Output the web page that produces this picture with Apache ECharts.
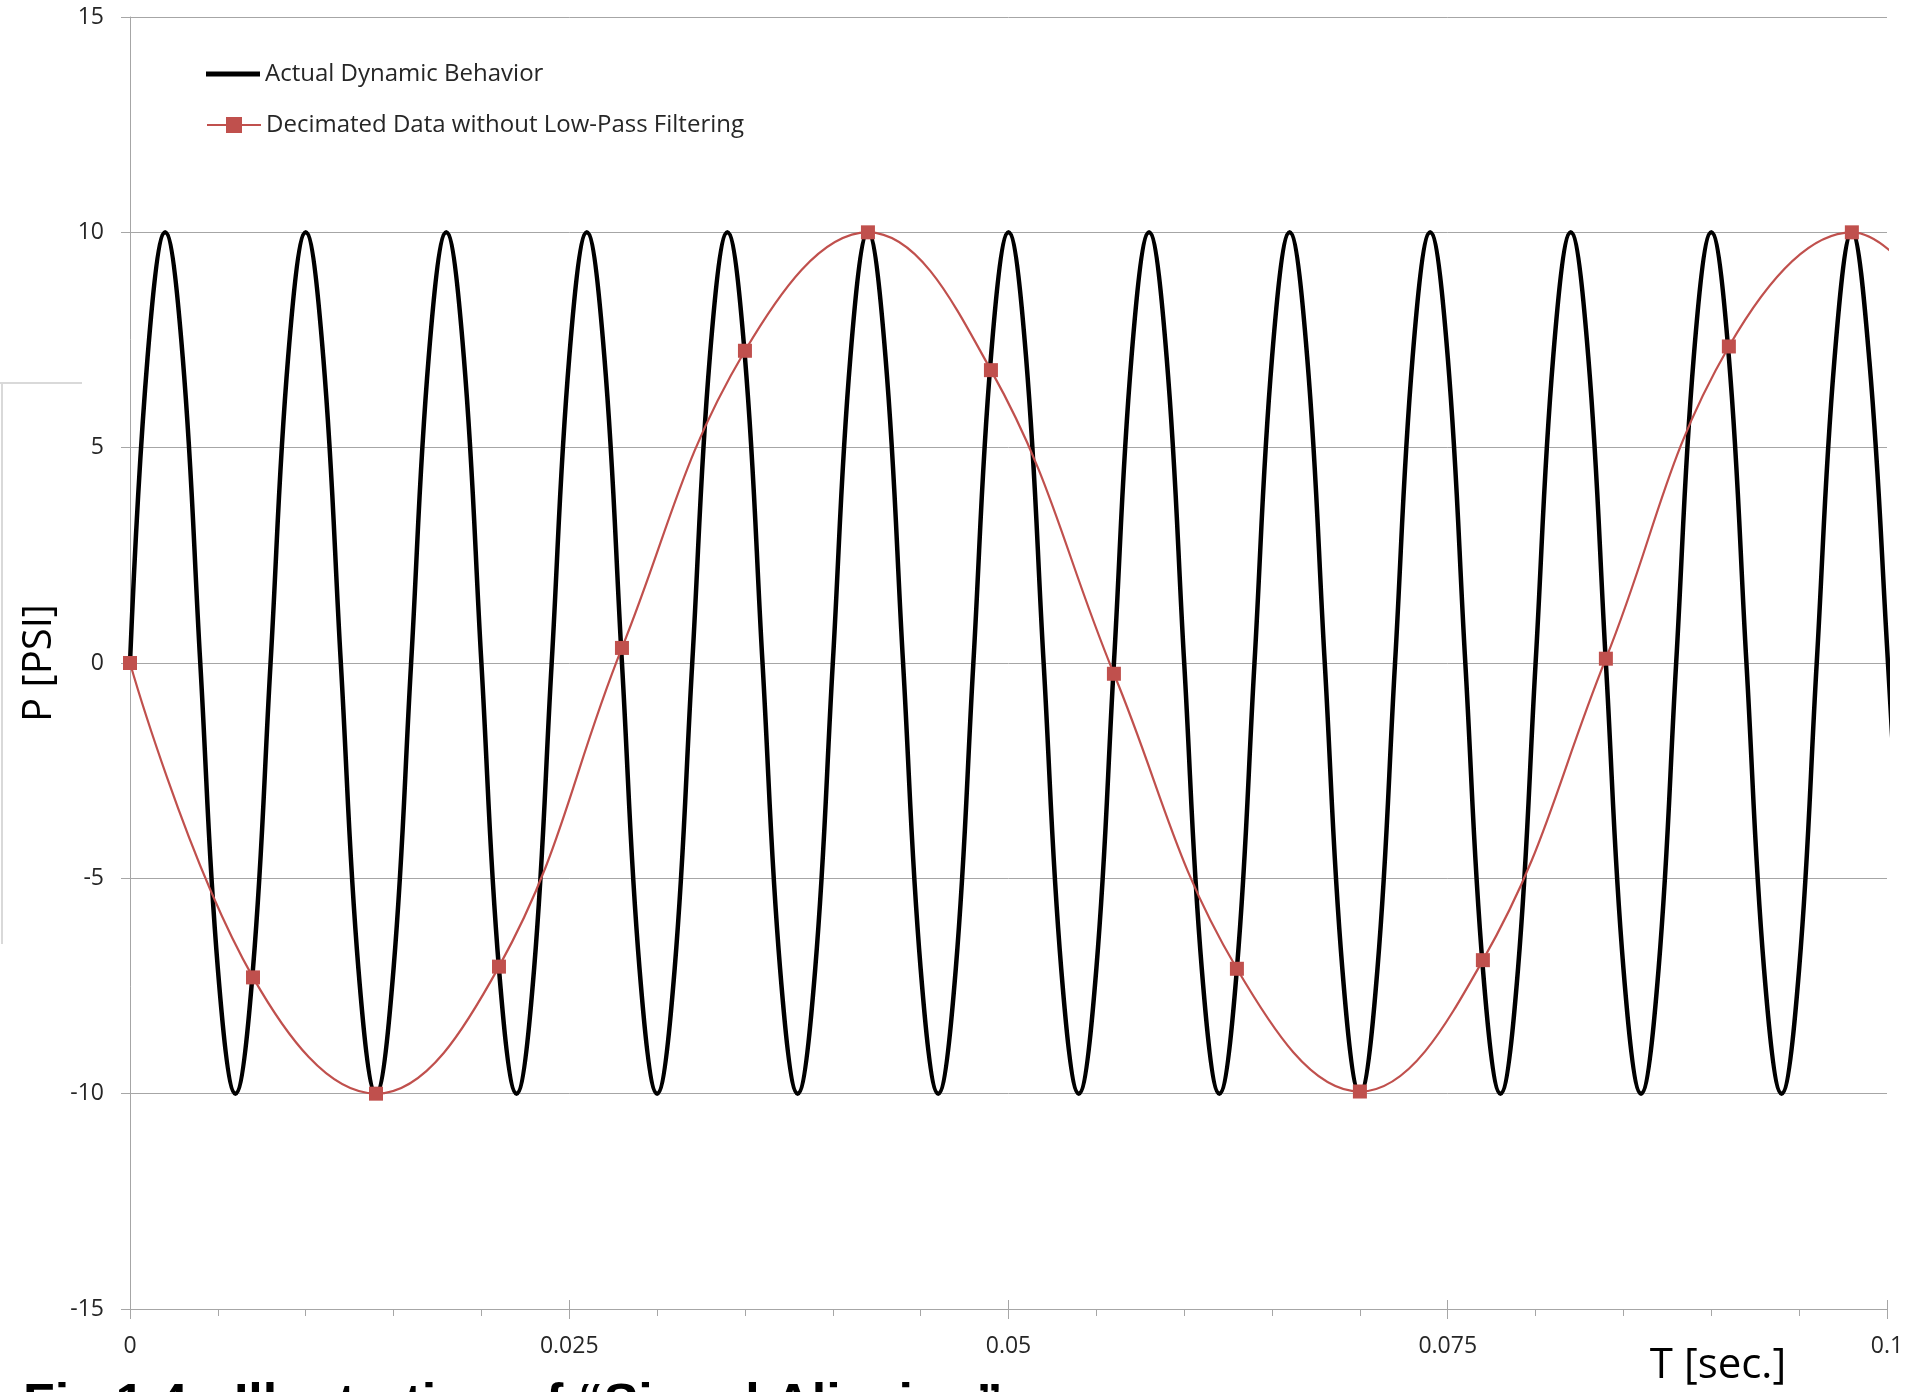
<!DOCTYPE html>
<html>
<head>
<meta charset="utf-8">
<script src="https://cdn.jsdelivr.net/npm/echarts@6/dist/echarts.min.js"></script>
<style>
html,body{margin:0;padding:0;background:#ffffff;}
#chart{width:1915px;height:1392px;}
</style>
</head>
<body>
<div id="chart"></div>
<script>
// ---- data ----
const xTickLabels = ['0', '0.025', '0.05', '0.075', '0.1'];
const yTickLabels = ['-15', '-10', '-5', '0', '5', '10', '15'];
const blackName = 'Actual Dynamic Behavior';
const redName = 'Decimated Data without Low-Pass Filtering';
const xAxisTitle = 'T [sec.]';
const yAxisTitle = 'P [PSI]';
const captionText = 'Fig 1.4 - Illustration of “Signal Aliasing”';

// Actual dynamic behaviour: time [s] and pressure [PSI]
const blackT = [
  0, 0.001, 0.002, 0.003, 0.004, 0.005, 0.006, 0.007, 0.008, 0.009,
  0.010, 0.011, 0.012, 0.013, 0.014, 0.015, 0.016, 0.017, 0.018, 0.019,
  0.020, 0.021, 0.022, 0.023, 0.024, 0.025, 0.026, 0.027, 0.028, 0.029,
  0.030, 0.031, 0.032, 0.033, 0.034, 0.035, 0.036, 0.037, 0.038, 0.039,
  0.040, 0.041, 0.042, 0.043, 0.044, 0.045, 0.046, 0.047, 0.048, 0.049,
  0.050, 0.051, 0.052, 0.053, 0.054, 0.055, 0.056, 0.057, 0.058, 0.059,
  0.060, 0.061, 0.062, 0.063, 0.064, 0.065, 0.066, 0.067, 0.068, 0.069,
  0.070, 0.071, 0.072, 0.073, 0.074, 0.075, 0.076, 0.077, 0.078, 0.079,
  0.080, 0.081, 0.082, 0.083, 0.084, 0.085, 0.086, 0.087, 0.088, 0.089,
  0.090, 0.091, 0.092, 0.093, 0.094, 0.095, 0.096, 0.097, 0.098, 0.099,
  0.100, 0.101
];
const blackP = [
  0, 7.1, 10, 7.1, 0, -7.1, -10, -7.1,
  0, 7.1, 10, 7.1, 0, -7.1, -10, -7.1,
  0, 7.1, 10, 7.1, 0, -7.1, -10, -7.1,
  0, 7.1, 10, 7.1, 0, -7.1, -10, -7.1,
  0, 7.1, 10, 7.1, 0, -7.1, -10, -7.1,
  0, 7.1, 10, 7.1, 0, -7.1, -10, -7.1,
  0, 7.1, 10, 7.1, 0, -7.1, -10, -7.1,
  0, 7.1, 10, 7.1, 0, -7.1, -10, -7.1,
  0, 7.1, 10, 7.1, 0, -7.1, -10, -7.1,
  0, 7.1, 10, 7.1, 0, -7.1, -10, -7.1,
  0, 7.1, 10, 7.1, 0, -7.1, -10, -7.1,
  0, 7.1, 10, 7.1, 0, -7.1, -10, -7.1,
  0, 7.0, 10, 7.0, 0.4, -7.0
];

// Decimated samples: time [s] and pressure [PSI]
const redT = [0, 0.007, 0.014, 0.021, 0.028, 0.035, 0.042, 0.049, 0.056, 0.063, 0.070, 0.077, 0.084, 0.091, 0.098, 0.105];
const redP = [0, -7.3, -10, -7.05, 0.35, 7.25, 10, 6.8, -0.25, -7.1, -9.95, -6.9, 0.1, 7.35, 10, 6.9];

// ---- chart ----
const GRID = '#a6a6a6';
const TXT = '#262626';
const FONT = 'Open Sans';

const chart = echarts.init(document.getElementById('chart'), null, {renderer: 'canvas'});

const xMin = parseFloat(xTickLabels[0]);
const xMax = parseFloat(xTickLabels[xTickLabels.length - 1]);
const xStep = parseFloat(xTickLabels[1]) - parseFloat(xTickLabels[0]);
const yMin = parseFloat(yTickLabels[0]);
const yMax = parseFloat(yTickLabels[yTickLabels.length - 1]);
const yStep = parseFloat(yTickLabels[1]) - parseFloat(yTickLabels[0]);

chart.setOption({
  animation: false,
  backgroundColor: '#ffffff',
  grid: {left: 130, right: 28, top: 17, bottom: 83, containLabel: false},
  legend: [
    {
      data: [{name: blackName, icon: 'rect'}], left: 206, top: 62, orient: 'vertical', padding: 0,
      itemWidth: 54, itemHeight: 5,
      textStyle: {fontFamily: FONT, fontSize: 24, color: TXT}
    },
    {
      data: [redName], left: 206, top: 113, orient: 'vertical', padding: 0,
      itemWidth: 54, itemHeight: 20,
      textStyle: {fontFamily: FONT, fontSize: 24, color: TXT}
    }
  ],
  xAxis: [
    {
      type: 'value', min: xMin, max: xMax, interval: xStep, splitNumber: 4,
      name: xAxisTitle, nameLocation: 'end', nameGap: -169,
      nameTextStyle: {fontFamily: FONT, fontSize: 42, color: '#000', align: 'center', verticalAlign: 'top', padding: [36, 0, 0, 0]},
      axisLine: {onZero: false, lineStyle: {color: GRID, width: 1}},
      axisTick: {show: true, inside: false, length: 10, lineStyle: {color: GRID}},
      minorTick: {show: true, splitNumber: 5, length: 7, lineStyle: {color: GRID}},
      splitLine: {show: false},
      axisLabel: {fontFamily: FONT, fontSize: 23, color: TXT, margin: 26,
        formatter: function (v) { return String(parseFloat(v.toFixed(4))); }}
    },
    {
      type: 'value', min: xMin, max: xMax, interval: xStep, position: 'bottom',
      axisLine: {show: false, onZero: false},
      axisTick: {show: true, inside: true, length: 9, lineStyle: {color: GRID}},
      axisLabel: {show: false},
      splitLine: {show: false}
    }
  ],
  yAxis: {
    type: 'value', min: yMin, max: yMax, interval: yStep,
    name: yAxisTitle, nameLocation: 'middle', nameGap: 68,
    nameTextStyle: {fontFamily: FONT, fontSize: 40, color: '#000'},
    axisLine: {show: true, lineStyle: {color: GRID, width: 1}},
    axisTick: {show: true, inside: false, length: 9, lineStyle: {color: GRID}},
    splitLine: {show: true, lineStyle: {color: GRID, width: 1}},
    axisLabel: {fontFamily: FONT, fontSize: 23, color: TXT, margin: 26}
  },
  series: [
    {
      name: blackName, type: 'line', xAxisIndex: 0,
      data: blackT.map((t, i) => [t, blackP[i]]),
      smooth: 0.4, symbol: 'none', clip: true,
      lineStyle: {color: '#000000', width: 4.5},
      itemStyle: {color: '#000000'},
      z: 2
    },
    {
      name: redName, type: 'line', xAxisIndex: 0,
      data: redT.map((t, i) => [t, redP[i]]),
      smooth: 0.4, symbol: 'rect', symbolSize: 14, showSymbol: true, clip: true,
      lineStyle: {color: '#C0504D', width: 2.2},
      itemStyle: {color: '#C0504D'},
      z: 3
    }
  ],
  graphic: [
    {type: 'line', silent: true, shape: {x1: 0, y1: 383, x2: 82, y2: 383}, style: {stroke: '#d9d9d9', lineWidth: 2}},
    {type: 'line', silent: true, shape: {x1: 2, y1: 383, x2: 2, y2: 944}, style: {stroke: '#d9d9d9', lineWidth: 2}},
    {type: 'text', silent: true, x: 23, y: 1380,
      style: {text: captionText, fontSize: 52, fontWeight: 'bold', fontFamily: 'Liberation Sans', fill: '#000', verticalAlign: 'top', align: 'left'}}
  ]
});
</script>
</body>
</html>
